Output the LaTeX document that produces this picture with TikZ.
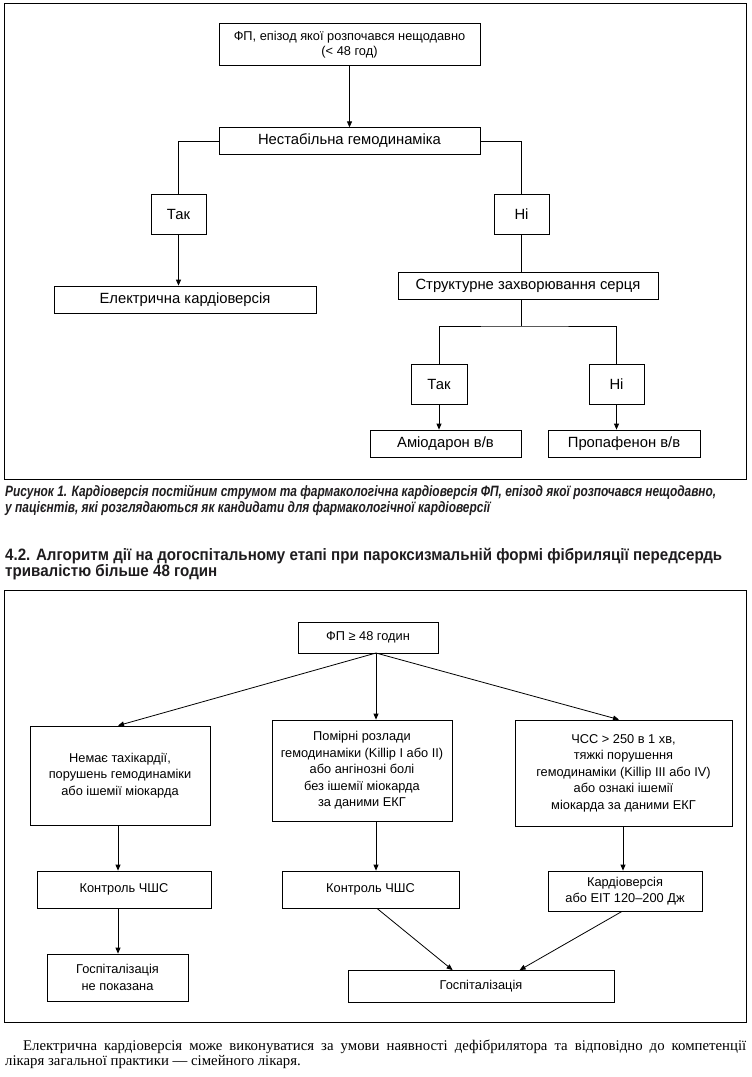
\documentclass[tikz,border=0pt]{standalone}
\usepackage{fontspec}
\usepackage{graphicx}
\setmainfont{Liberation Sans}
\newfontfamily\headfont{Liberation Sans}
\newfontfamily\paraf{Liberation Serif}
\usetikzlibrary{arrows.meta}
\definecolor{ink}{RGB}{30,28,30}
\newlength\wa
\newlength\wb
\newcommand\headA{4.2. Алгоритм дії на догоспітальному етапі при пароксизмальній формі фібриляції передсердь}
\newcommand\headB{тривалістю більше 48 годин}
\newcommand\capA{Рисунок 1. Кардіоверсія постійним струмом та фармакологічна кардіоверсія ФП, епізод якої розпочався нещодавно,}
\newcommand\capB{у пацієнтів, які розглядаються як кандидати для фармакологічної кардіоверсії}
\begin{document}
\settowidth{\wa}{\headfont\bfseries\fontsize{16.5}{18}\selectfont\headA}%
\pgfmathsetmacro\hsA{717/\wa}%
\settowidth{\wb}{\headfont\bfseries\itshape\fontsize{15}{18}\selectfont\capA}%
\pgfmathsetmacro\hsB{711/\wb}%
\begin{tikzpicture}[x=1pt,y=-1pt,
  fbox/.style={draw, line width=0.8pt, inner sep=0pt, align=center},
  tbox/.style={fbox, font=\fontsize{14.8}{17}\selectfont},
  bbox/.style={fbox, font=\fontsize{12.8}{16.5}\selectfont},
  arr/.style={-{Triangle[length=6pt,width=5pt]}, line width=0.8pt},
  ln/.style={line width=0.8pt},
  frame/.style={line width=0.8pt}]
\useasboundingbox (0,0) rectangle (752,1077);
\fill[white] (0,0) rectangle (752,1077);

% ---------- top frame ----------
\draw[frame] (4,3.5) rectangle (746,479);

\node[fbox, font=\fontsize{12.8}{15.5}\selectfont, minimum width=261pt, minimum height=42pt] (t1) at (349.5,44.5)
  {ФП, епізод якої розпочався нещодавно\\(< 48 год)};
\node[tbox, minimum width=261pt, minimum height=26.5pt] (t2) at (349.5,141) {Нестабільна гемодинаміка};
\node[tbox, minimum width=55pt, minimum height=40pt] (tak1) at (178.5,214) {Так};
\node[tbox, minimum width=55pt, minimum height=40pt] (ni1) at (521.5,214) {Ні};
\node[tbox, minimum width=262pt, minimum height=27pt] (el) at (185,299.5) {Електрична кардіоверсія};
\node[tbox, minimum width=260pt, minimum height=27pt] (str) at (528,285.5) {Структурне захворювання серця};
\node[tbox, minimum width=56pt, minimum height=40pt] (tak2) at (439,384) {Так};
\node[tbox, minimum width=55pt, minimum height=40pt] (ni2) at (616.5,384) {Ні};
\node[tbox, minimum width=151pt, minimum height=27pt] (ami) at (445.5,443.5) {Аміодарон в/в};
\node[tbox, minimum width=152pt, minimum height=27pt] (pro) at (624,443.5) {Пропафенон в/в};

\draw[arr] (t1.south) -- (t2.north);
\draw[ln] (t2.west) -| (tak1.north);
\draw[ln] (t2.east) -| (ni1.north);
\draw[arr] (tak1.south) -- (tak1.south |- el.north);
\draw[ln] (ni1.south) -- (ni1.south |- str.north);
\coordinate (j1) at (521.5,326);
\draw[ln] (j1 |- str.south) -- (j1);
\draw[ln] (tak2.north) |- (j1) -| (ni2.north);
\draw[arr] (tak2.south) -- (tak2.south |- ami.north);
\draw[arr] (ni2.south) -- (ni2.south |- pro.north);

% ---------- caption ----------
\node[anchor=west, inner sep=0pt, text=ink, font=\headfont\bfseries\itshape\fontsize{15}{18}\selectfont] (capa) at (5,492) {\scalebox{\hsB}[1]{\capA}};
\node[anchor=west, inner sep=0pt, text=ink, font=\headfont\bfseries\itshape\fontsize{15}{18}\selectfont] (capb) at (5,508.5) {\scalebox{\hsB}[1]{\capB}};

% ---------- heading ----------
\node[anchor=west, inner sep=0pt, text=ink, font=\headfont\bfseries\fontsize{16.5}{18}\selectfont] (hda) at (5,556) {\scalebox{\hsA}[1]{\headA}};
\node[anchor=west, inner sep=0pt, text=ink, font=\headfont\bfseries\fontsize{16.5}{18}\selectfont] (hdb) at (5,572.5) {\scalebox{\hsA}[1]{\headB}};

% ---------- bottom frame ----------
\draw[frame] (4,590) rectangle (746,1022);

\node[bbox, minimum width=140pt, minimum height=31pt] (b0) at (368,637.5) {ФП ≥ 48 годин};
\coordinate (o) at (376,653);
\node[bbox, minimum width=180pt, minimum height=99pt] (b1) at (120,775.5)
  {Немає тахікардії,\\порушень гемодинаміки\\або ішемії міокарда};
\node[bbox, minimum width=180pt, minimum height=101pt] (b2) at (362,770.5)
  {Помірні розлади\\гемодинаміки (Killip I або II)\\або ангінозні болі\\без ішемії міокарда\\за даними ЕКГ};
\node[bbox, minimum width=217pt, minimum height=106pt] (b3) at (623.5,773)
  {ЧСС > 250 в 1 хв,\\тяжкі порушення\\гемодинаміки (Killip III або IV)\\або ознакі ішемії\\міокарда за даними ЕКГ};
\node[bbox, minimum width=174pt, minimum height=37pt] (c1) at (124,889.5) {Контроль ЧШС};
\node[bbox, minimum width=177pt, minimum height=37pt] (c2) at (370.5,889.5) {Контроль ЧШС};
\node[bbox, minimum width=154pt, minimum height=40pt] (c3) at (625,891) {Кардіоверсія\\або ЕІТ 120–200 Дж};
\node[bbox, minimum width=141pt, minimum height=47pt] (d1) at (117.5,977.5) {Госпіталізація\\не показана};
\node[bbox, minimum width=266pt, minimum height=32pt] (d2) at (481,986.5) {Госпіталізація};

\draw[arr] (o) -- (b1.north -| 118,0);
\draw[arr] (o) -- (o |- b2.north);
\draw[arr] (o) -- (b3.north -| 619,0);
\draw[arr] (b1.south -| 118,0) -- (c1.north -| 118,0);
\draw[arr] (b2.south -| o) -- (c2.north -| o);
\draw[arr] (b3.south -| 623,0) -- (c3.north -| 623,0);
\draw[arr] (c1.south -| 118,0) -- (d1.north -| 118,0);
\draw[arr] (c2.south -| 377,0) -- ([xshift=105pt]d2.north west);
\draw[arr] (c3.south -| 622,0) -- ([xshift=172pt]d2.north west);

% ---------- paragraph ----------
\node[anchor=west, inner sep=0pt, font=\paraf\fontsize{14.8}{16}\selectfont] (p1) at (23,1046.5)
  {\makebox[723pt][s]{Електрична кардіоверсія може виконуватися за умови наявності дефібрилятора та відповідно до компетенції}};
\node[anchor=west, inner sep=0pt, font=\paraf\fontsize{14.8}{16}\selectfont] (p2) at (5,1061.5)
  {лікаря загальної практики — сімейного лікаря.};
\end{tikzpicture}
\end{document}
